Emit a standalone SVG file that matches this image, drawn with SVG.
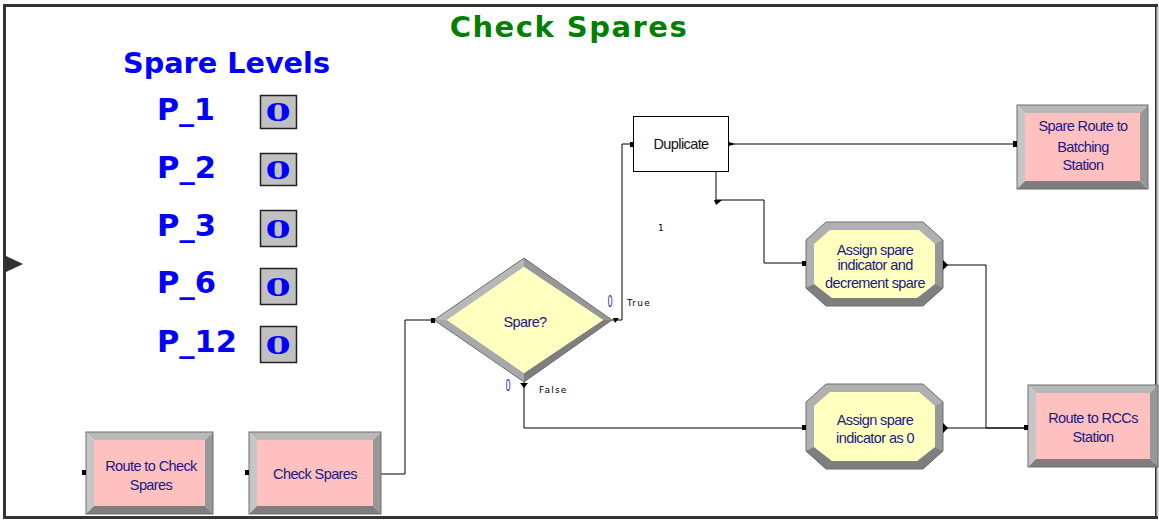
<svg xmlns="http://www.w3.org/2000/svg" width="1159" height="520" viewBox="0 0 1159 520">
<style>
.nt{font-family:"Liberation Sans",Arial,sans-serif;font-size:14.5px;fill:#1a1a80;text-anchor:middle;letter-spacing:-0.6px}
.lv{font-family:"DejaVu Sans","Liberation Sans",sans-serif;font-weight:bold;fill:#0000ff}
.zero{font-family:"DejaVu Serif","Liberation Serif",serif;font-weight:bold;font-size:25px;fill:#0000ff;text-anchor:middle}
.vb{fill:#c0c0c0;stroke:#222;stroke-width:1.5}
.bt{fill:#b8b8b8}.bl{fill:#c6c6c6}.br{fill:#979797}.bb{fill:#7e7e7e}
.pink{fill:#ffc0c0}.yel{fill:#ffffc0}
.ol{fill:none;stroke:#6e6e6e;stroke-width:1}
.cn{fill:none;stroke:#000;stroke-width:1}
.port{fill:#000}
.sm{font-family:"DejaVu Sans","Liberation Sans",sans-serif;font-size:9px;fill:#000;letter-spacing:1.2px}
.oz{font-family:"Liberation Sans",sans-serif;font-size:17px;fill:#1a1a90;text-anchor:middle}
</style>
<rect x="0" y="0" width="1159" height="520" fill="#fff"/>
<g id="frame">
<rect x="4.5" y="5.5" width="1152" height="512" fill="none" stroke="#333" stroke-width="3"/>
<line x1="1157.5" y1="7" x2="1157.5" y2="516" stroke="#c8c8c8" stroke-width="2"/>
<polygon points="6,256 23,264 6,272" fill="#333"/>
</g>
<text x="569" y="37" font-family="DejaVu Sans,Verdana,sans-serif" font-weight="bold" font-size="29" fill="#008000" text-anchor="middle" letter-spacing="1.5">Check Spares</text>
<g id="spare-levels">
<text class="lv" x="123" y="73" font-size="29" textLength="207" lengthAdjust="spacingAndGlyphs">Spare Levels</text>
<text class="lv" x="157" y="120" font-size="30" textLength="58" lengthAdjust="spacingAndGlyphs">P_1</text>
<text class="lv" x="157" y="178" font-size="30" textLength="59" lengthAdjust="spacingAndGlyphs">P_2</text>
<text class="lv" x="157" y="236" font-size="30" textLength="59" lengthAdjust="spacingAndGlyphs">P_3</text>
<text class="lv" x="157" y="293" font-size="30" textLength="59" lengthAdjust="spacingAndGlyphs">P_6</text>
<text class="lv" x="157" y="352" font-size="30" textLength="80" lengthAdjust="spacingAndGlyphs">P_12</text>
<rect class="vb" x="260.5" y="95.5" width="36" height="33"/><text class="zero" transform="translate(278 121) scale(1.45 1)">0</text>
<rect class="vb" x="260.5" y="153.5" width="36" height="32"/><text class="zero" transform="translate(278 179) scale(1.45 1)">0</text>
<rect class="vb" x="260.5" y="210.5" width="36" height="36"/><text class="zero" transform="translate(278 238) scale(1.45 1)">0</text>
<rect class="vb" x="260.5" y="268.5" width="36" height="36"/><text class="zero" transform="translate(278 296) scale(1.45 1)">0</text>
<rect class="vb" x="260.5" y="326.5" width="36" height="36"/><text class="zero" transform="translate(278 354) scale(1.45 1)">0</text>
</g>
<g id="connectors">
<path class="cn" d="M381,474 H405 V320 H434"/>
<path class="cn" d="M612,320 H622 V144 H633"/>
<path class="cn" d="M728,144 H1015"/>
<path class="cn" d="M716,171 V200 H764 V263 H806"/>
<path class="cn" d="M524,382 V428 H806"/>
<path class="cn" d="M943,265 H986 V428 H1027"/>
<path class="cn" d="M943,428 H1027" stroke="#555"/>
<text class="sm" x="658" y="231" letter-spacing="0">1</text>
<text class="oz" transform="translate(610 307) scale(0.5 1)">0</text>
<text class="sm" x="627" y="306">True</text>
<text class="oz" transform="translate(508 391) scale(0.5 1)">0</text>
<text class="sm" x="539" y="393">False</text>
</g>
<g id="route-to-check-spares">
<polygon class="bt" points="86,432 213,432 205,440 94,440"/>
<polygon class="bl" points="86,432 94,440 94,506 86,514"/>
<polygon class="br" points="213,432 213,514 205,506 205,440"/>
<polygon class="bb" points="86,514 94,506 205,506 213,514"/>
<rect class="pink" x="94" y="440" width="111" height="66"/>
<rect class="ol" x="86" y="432" width="127" height="82"/>
<rect class="port" x="82" y="470" width="4" height="5"/>
<text class="nt" x="151" y="471">Route to Check</text>
<text class="nt" x="151" y="490">Spares</text>
</g>
<g id="check-spares">
<polygon class="bt" points="249,432 381,432 373,440 257,440"/>
<polygon class="bl" points="249,432 257,440 257,506 249,514"/>
<polygon class="br" points="381,432 381,514 373,506 373,440"/>
<polygon class="bb" points="249,514 257,506 373,506 381,514"/>
<rect class="pink" x="257" y="440" width="116" height="66"/>
<rect class="ol" x="249" y="432" width="132" height="82"/>
<rect class="port" x="245" y="470" width="4" height="5"/>
<text class="nt" x="315" y="479">Check Spares</text>
</g>
<g id="spare-decision">
<polygon class="bt" points="434,320 524,258 524,267 447,320"/>
<polygon class="br" points="524,258 612,320 603,320 524,267"/>
<polygon class="bb" points="612,320 524,382 524,373 603,320"/>
<polygon fill="#a8a8a8" points="434,320 447,320 524,373 524,382"/>
<polygon class="yel" points="447,320 524,267 603,320 524,373"/>
<polygon class="ol" points="434,320 524,258 612,320 524,382"/>
<rect class="port" x="431" y="318" width="4" height="5"/>
<polygon class="port" points="613,318 619,318 615,323"/>
<polygon class="port" points="520,383 528,383 524,388"/>
<text class="nt" x="525" y="327">Spare?</text>
</g>
<g id="duplicate">
<rect x="633.5" y="116.5" width="95" height="55" fill="#fff" stroke="#000" stroke-width="1"/>
<rect class="port" x="630" y="142" width="4" height="5"/>
<polygon class="port" points="729,142 735,144 729,146"/>
<polygon class="port" points="714,200 722,200 716,205"/>
<text class="nt" x="681" y="149" style="fill:#111">Duplicate</text>
</g>
<g id="spare-route-batching">
<polygon class="bt" points="1017,105 1148,105 1140,113 1025,113"/>
<polygon class="bl" points="1017,105 1025,113 1025,181 1017,189"/>
<polygon class="br" points="1148,105 1148,189 1140,181 1140,113"/>
<polygon class="bb" points="1017,189 1025,181 1140,181 1148,189"/>
<rect class="pink" x="1025" y="113" width="115" height="68"/>
<rect class="ol" x="1017" y="105" width="131" height="84"/>
<rect class="port" x="1013" y="141" width="4" height="6"/>
<text class="nt" x="1083" y="131">Spare Route to</text>
<text class="nt" x="1083" y="152">Batching</text>
<text class="nt" x="1083" y="170">Station</text>
</g>
<g id="assign-decrement">
<polygon fill="#b0b0b0" points="826,222 923,222 943,240 943,288 923,306 826,306 806,288 806,240"/>
<polygon class="bb" points="806,288 826,306 923,306 943,288 935,284 917,298 832,298 814,284"/>
<polygon class="br" points="943,240 943,288 935,284 935,244"/>
<polygon class="yel" points="830,230 919,230 935,244 935,284 917,298 832,298 814,284 814,244"/>
<polygon class="ol" points="826,222 923,222 943,240 943,288 923,306 826,306 806,288 806,240"/>
<rect class="port" x="802" y="261" width="4" height="5"/>
<polygon class="port" points="943,260 948,265 943,270"/>
<text class="nt" x="875" y="255">Assign spare</text>
<text class="nt" x="875" y="270">indicator and</text>
<text class="nt" x="875" y="288">decrement spare</text>
</g>
<g id="assign-zero">
<polygon fill="#b0b0b0" points="826,384 923,384 943,402 943,451 923,469 826,469 806,451 806,402"/>
<polygon class="bb" points="806,451 826,469 923,469 943,451 935,447 917,461 832,461 814,447"/>
<polygon class="br" points="943,402 943,451 935,447 935,406"/>
<polygon class="yel" points="830,392 919,392 935,406 935,447 917,461 832,461 814,447 814,406"/>
<polygon class="ol" points="826,384 923,384 943,402 943,451 923,469 826,469 806,451 806,402"/>
<rect class="port" x="802" y="425" width="4" height="5"/>
<polygon class="port" points="943,423 948,428 943,433"/>
<text class="nt" x="875" y="425">Assign spare</text>
<text class="nt" x="875" y="443">indicator as 0</text>
</g>
<g id="route-to-rccs">
<polygon class="bt" points="1028,385 1158,385 1150,393 1036,393"/>
<polygon class="bl" points="1028,385 1036,393 1036,459 1028,467"/>
<polygon class="br" points="1158,385 1158,467 1150,459 1150,393"/>
<polygon class="bb" points="1028,467 1036,459 1150,459 1158,467"/>
<rect class="pink" x="1036" y="393" width="114" height="66"/>
<rect class="ol" x="1028" y="385" width="130" height="82"/>
<rect class="port" x="1024" y="425" width="4" height="5"/>
<text class="nt" x="1093" y="423">Route to RCCs</text>
<text class="nt" x="1093" y="442">Station</text>
</g>
</svg>
